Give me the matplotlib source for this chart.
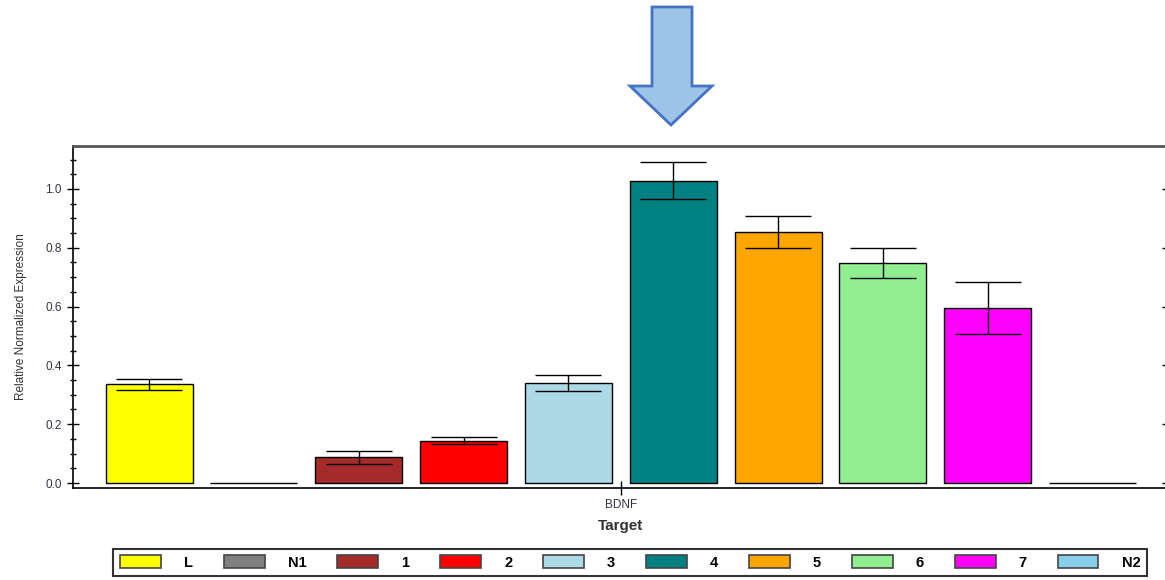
import matplotlib.pyplot as plt
import matplotlib.patches as mpatches
import numpy as np

samples = ["L", "N1", "1", "2", "3", "4", "5", "6", "7", "N2"]
values = [0.335, 0.0, 0.088, 0.143, 0.340, 1.027, 0.852, 0.748, 0.595, 0.0]
err_hi = [0.355, 0.0, 0.109, 0.156, 0.367, 1.092, 0.908, 0.800, 0.684, 0.0]
err_lo = [0.315, 0.0, 0.066, 0.133, 0.313, 0.966, 0.798, 0.697, 0.507, 0.0]
colors = ["#ffff00", "#808080", "#a52a2a", "#ff0000", "#add8e6",
          "#008080", "#ffa500", "#90ee90", "#ff00ff", "#87ceeb"]
target = "BDNF"

plt.rcParams['font.family'] = ['Liberation Sans', 'DejaVu Sans']

fig = plt.figure(figsize=(11.65, 5.8), dpi=100)
ax = fig.add_axes([0.0627, 0.1586, 0.940, 0.5897])

x = np.arange(len(samples))
vals = np.array(values)
yerr = np.array([vals - np.array(err_lo), np.array(err_hi) - vals])
has_err = vals > 0
ax.bar(x, vals, width=0.83, color=colors, edgecolor="black", linewidth=1.0, zorder=2)
ax.errorbar(x[has_err], vals[has_err], yerr=yerr[:, has_err], fmt="none",
            ecolor="black", elinewidth=1.0, capsize=24, capthick=1.0, zorder=3)

ax.set_xlim(-0.725, 9.72)
ax.set_ylim(-0.017, 1.146)
ax.set_yticks([0.0, 0.2, 0.4, 0.6, 0.8, 1.0])
ax.set_yticklabels(["0.0", "0.2", "0.4", "0.6", "0.8", "1.0"])
ax.set_yticks(np.arange(0, 1.15, 0.05), minor=True)
ax.tick_params(axis="y", which="major", direction="inout", length=9, width=1,
               labelsize=8.5, colors="black", labelcolor="#333344", right=True)
ax.tick_params(axis="y", which="minor", direction="inout", length=5, width=1)
ax.set_xticks([4.5])
ax.set_xticklabels([target])
ax.tick_params(axis="x", direction="inout", length=10, width=1, labelsize=8.5,
               labelcolor="#333344", pad=3)
ax.set_xlabel("Target", fontsize=11, fontweight="bold", color="#333333", labelpad=6)
ax.set_ylabel("Relative Normalized Expression", fontsize=8.5, color="#333333", labelpad=13)
for s in ["top", "right"]:
    ax.spines[s].set_color("#555555")
    ax.spines[s].set_linewidth(2)
ax.spines["left"].set_linewidth(1.2)
ax.spines["bottom"].set_linewidth(1.2)

handles = [mpatches.Patch(facecolor=c, edgecolor="#444444", linewidth=1.2) for c in colors]
leg = fig.legend(handles, samples, loc="center", ncol=len(samples),
                 bbox_to_anchor=(0.541, 0.0302), frameon=True, fancybox=False,
                 handlelength=2.8, handleheight=0.9, handletextpad=1.6,
                 columnspacing=2.1, borderpad=0.45, borderaxespad=0,
                 prop={"weight": "bold", "size": 10.5})
leg.get_frame().set_edgecolor("black")
leg.get_frame().set_linewidth(1.5)

# down arrow pointing at the target group
outline = [(652, 7), (692, 7), (692, 86), (712, 86), (671, 125), (630, 86), (652, 86)]
pts = [(px / 1165, 1 - py / 580) for px, py in outline]
arrow = mpatches.Polygon(pts, closed=True, facecolor="#9dc3e6", edgecolor="#4472c4",
                         linewidth=2, transform=fig.transFigure)
fig.patches.append(arrow)

fig.savefig("out.png", dpi=100)
